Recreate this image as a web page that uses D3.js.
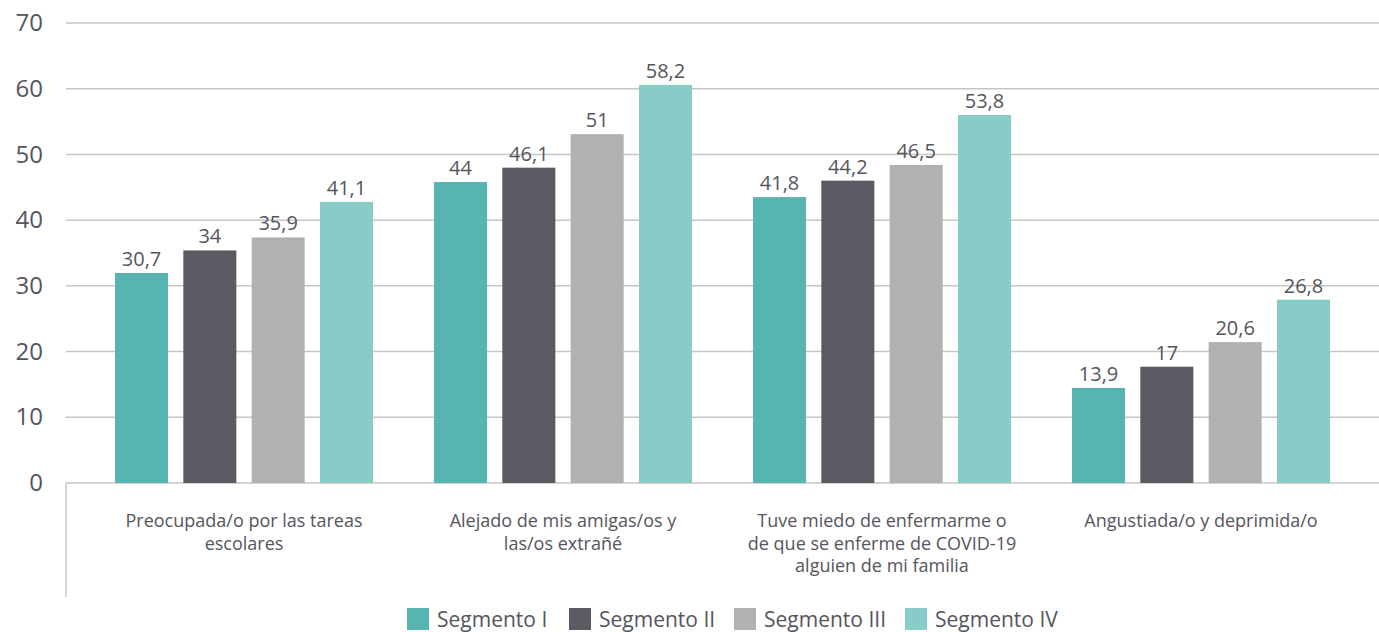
<!DOCTYPE html>
<html>
<head>
<meta charset="utf-8">
<script src="https://cdn.jsdelivr.net/npm/d3@7"></script>
<style>
  body { margin: 0; background: #fff; }
  text { font-family: "Open Sans", "Noto Sans", sans-serif; fill: #55555d; }
</style>
</head>
<body>
<div id="chart"></div>
<script>
// categories and series
var categories = [
    ["Preocupada/o por las tareas", "escolares"],
    ["Alejado de mis amigas/os y", "las/os extrañé"],
    ["Tuve miedo de enfermarme o", "de que se enferme de COVID-19", "alguien de mi familia"],
    ["Angustiada/o y deprimida/o"]
];
var series = ["Segmento I", "Segmento II", "Segmento III", "Segmento IV"];
var segI = [30.7, 44, 41.8, 13.9];
var segII = [34, 46.1, 44.2, 17];
var segIII = [35.9, 51, 46.5, 20.6];
var segIV = [41.1, 58.2, 53.8, 26.8];
var yTicks = [0, 10, 20, 30, 40, 50, 60, 70];
var colors = ["#56b5b0", "#5a5a63", "#b2b1b0", "#88ccc8"];

var W = 1379, H = 632;
var margin = { top: 23, right: 0, bottom: 149, left: 66 };
var height = H - margin.top - margin.bottom;

var svg = d3.select("#chart").append("svg")
    .attr("width", W)
    .attr("height", H);

var g = svg.append("g")
    .attr("transform", "translate(" + margin.left + "," + margin.top + ")");

var values = [segI, segII, segIII, segIV];
var data = categories.map(function(c, i) {
    return { key: i, lines: c, vals: values.map(function(s) { return s[i]; }) };
});

// y for gridlines
var y = d3.scaleLinear().domain([0, 70]).range([height, 0]);
// in the original the bars are drawn a bit taller than the gridlines say
var yBar = d3.scaleLinear().domain([0, 67.25]).range([height, 0]);

var x0 = d3.scaleBand()
    .domain(d3.range(categories.length))
    .range([18.5, 1294.5]);

var x1 = d3.scaleBand()
    .domain(d3.range(series.length))
    .range([30.5, x0.bandwidth() - 30.5])
    .paddingInner(0.224);

// gridlines
g.append("g")
    .selectAll("line")
    .data(yTicks)
    .enter()
    .append("line")
    .attr("x1", 0)
    .attr("x2", W - margin.left)
    .attr("y1", function(d) { return y(d); })
    .attr("y2", function(d) { return y(d); })
    .attr("stroke", "#c6c6c6")
    .attr("stroke-width", 1.5);

// y labels
var yAxis = g.append("g")
    .call(d3.axisLeft(y).tickValues(yTicks).tickSize(0).tickPadding(23));
yAxis.select(".domain").remove();
yAxis.selectAll("text")
    .style("font-size", "24px")
    .style("fill", "#55555d")
    .attr("dy", "0.32em");

// left vertical line below the zero line
g.append("line")
    .attr("x1", 0).attr("x2", 0)
    .attr("y1", height)
    .attr("y2", height + 114)
    .attr("stroke", "#c6c6c6")
    .attr("stroke-width", 1.5);

// bars
var groups = g.selectAll(".grp")
    .data(data)
    .enter()
    .append("g")
    .attr("transform", function(d) { return "translate(" + x0(d.key) + ",0)"; });

groups.selectAll("rect")
    .data(function(d) { return d.vals; })
    .enter()
    .append("rect")
    .attr("x", function(d, i) { return x1(i); })
    .attr("y", function(d) { return yBar(d); })
    .attr("width", x1.bandwidth())
    .attr("height", function(d) { return height - yBar(d); })
    .attr("fill", function(d, i) { return colors[i]; });

groups.selectAll(".lbl")
    .data(function(d) { return d.vals; })
    .enter()
    .append("text")
    .attr("x", function(d, i) { return x1(i) + x1.bandwidth() / 2; })
    .attr("y", function(d) { return yBar(d) - 7; })
    .attr("text-anchor", "middle")
    .style("font-size", "20px")
    .text(function(d) { return String(d).replace(".", ","); });

// category labels
groups.append("text")
    .attr("text-anchor", "middle")
    .style("font-size", "18px")
    .selectAll("tspan")
    .data(function(d) { return d.lines; })
    .enter()
    .append("tspan")
    .attr("x", x0.bandwidth() / 2)
    .attr("y", function(d, i) { return height + 44 + i * 22.5; })
    .text(function(d) { return d; });

// legend
var legX = [407, 569, 734, 905];
var legend = svg.append("g");
series.forEach(function(s, i) {
    legend.append("rect")
        .attr("x", legX[i])
        .attr("y", 608)
        .attr("width", 22)
        .attr("height", 22)
        .attr("fill", colors[i]);
    legend.append("text")
        .attr("x", legX[i] + 30)
        .attr("y", 627)
        .style("font-size", "21px")
        .text(s);
});
</script>
</body>
</html>
